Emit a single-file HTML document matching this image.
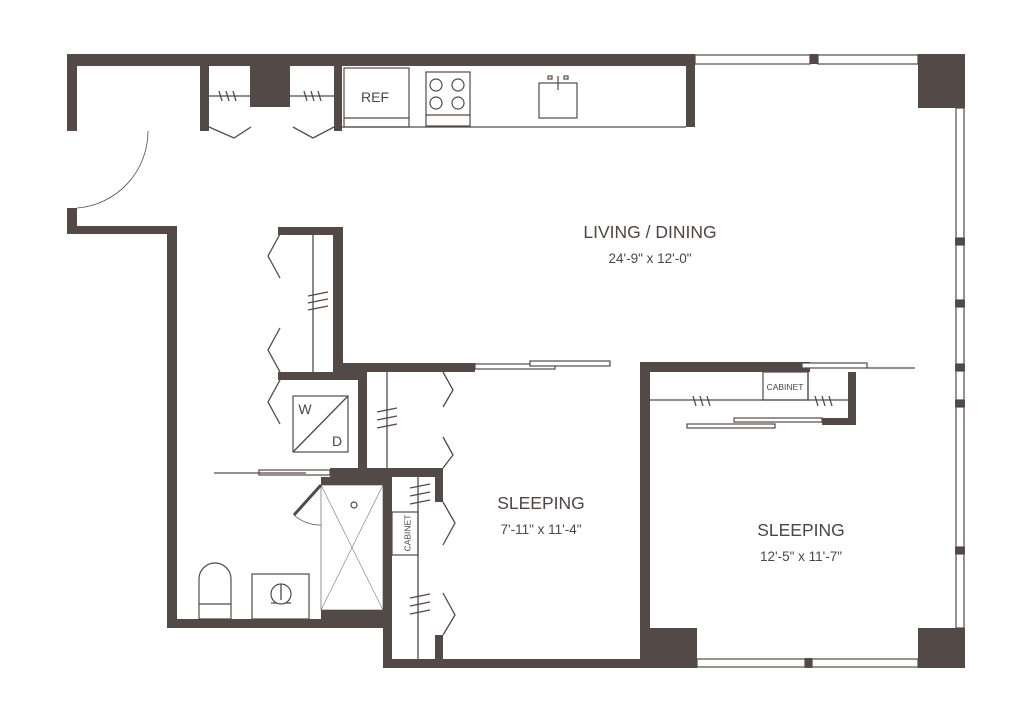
<!DOCTYPE html>
<html><head><meta charset="utf-8"><style>
html,body{margin:0;padding:0;background:#fff;}
svg{display:block;}
text{font-family:"Liberation Sans",sans-serif;fill:#4f4543;}
</style></head><body>
<svg width="1024" height="715" viewBox="0 0 1024 715" xmlns="http://www.w3.org/2000/svg">
<g fill="#534947">
<rect x="67" y="54" width="628" height="12"/>
<rect x="67" y="54" width="10" height="77"/>
<rect x="67" y="208" width="10" height="26"/>
<rect x="67" y="226" width="110" height="8"/>
<rect x="167" y="226" width="10" height="402"/>
<rect x="167" y="619" width="216" height="9"/>
<rect x="321" y="610" width="62" height="18"/>
<rect x="200" y="66" width="9" height="65"/>
<rect x="250" y="66" width="40" height="41"/>
<rect x="334" y="66" width="8" height="65"/>
<rect x="686" y="54" width="9" height="73"/>
<rect x="918" y="54" width="47" height="54"/>
<rect x="918" y="628" width="47" height="40"/>
<rect x="640" y="628" width="57" height="40"/>
<rect x="805" y="658" width="7" height="10"/>
<rect x="810" y="54" width="8" height="10"/>
<rect x="955" y="238" width="10" height="7"/>
<rect x="955" y="300" width="10" height="7"/>
<rect x="955" y="364" width="10" height="7"/>
<rect x="955" y="400" width="10" height="7"/>
<rect x="955" y="547" width="10" height="7"/>
<rect x="278" y="227" width="65" height="8"/>
<rect x="333" y="227" width="10" height="145"/>
<rect x="333" y="363" width="142" height="9"/>
<rect x="278" y="372" width="89" height="8"/>
<rect x="358" y="372" width="9" height="96"/>
<rect x="330" y="468" width="113" height="9"/>
<rect x="321" y="477" width="62" height="8"/>
<rect x="383" y="468" width="9" height="200"/>
<rect x="435" y="468" width="8" height="34"/>
<rect x="435" y="635" width="8" height="24"/>
<rect x="383" y="659" width="257" height="9"/>
<rect x="640" y="362" width="10" height="306"/>
<rect x="640" y="362" width="170" height="10"/>
<rect x="848" y="372" width="8" height="53"/>
<rect x="822" y="418" width="34" height="7"/>
</g>
<g fill="#fff" stroke="#534947" stroke-width="1.2">
<rect x="695" y="55" width="115" height="9"/>
<rect x="818" y="55" width="100" height="9"/>
<rect x="956" y="108" width="8" height="130"/>
<rect x="956" y="245" width="8" height="55"/>
<rect x="956" y="307" width="8" height="57"/>
<rect x="956" y="371" width="8" height="29"/>
<rect x="956" y="407" width="8" height="140"/>
<rect x="956" y="554" width="8" height="74"/>
<rect x="697" y="659" width="108" height="8"/>
<rect x="812" y="659" width="106" height="8"/>
<rect x="344" y="68" width="65" height="59"/>
<line x1="344" y1="118" x2="409" y2="118"/>
<rect x="426" y="72" width="44" height="54"/>
<line x1="426" y1="115" x2="470" y2="115"/>
<circle cx="436" cy="85" r="6"/><circle cx="458" cy="85" r="6"/>
<circle cx="436" cy="103" r="6"/><circle cx="458" cy="103" r="6"/>
<rect x="539" y="83" width="38" height="35"/>
<rect x="548" y="76" width="4" height="3"/><rect x="564" y="76" width="4" height="3"/>
<line x1="558" y1="76" x2="558" y2="90"/>
<rect x="475" y="364" width="80" height="5"/>
<rect x="530" y="361" width="80" height="5"/>
<rect x="259" y="470" width="71" height="5"/>
<rect x="687" y="424" width="88" height="4"/>
<rect x="734" y="418" width="88" height="4"/>
<rect x="802" y="363" width="65" height="5"/>
<rect x="293" y="396" width="55" height="56"/>
<rect x="763" y="372" width="45" height="28"/>
<rect x="392" y="512" width="26" height="43"/>
<rect x="321" y="485" width="62" height="125" stroke-width="0.6"/>
<circle cx="354" cy="505" r="3"/>
<rect x="252" y="574" width="57" height="45"/>
<circle cx="281" cy="594" r="10"/>
<path d="M199 619 V579 A16 16 0 0 1 231 579 V619 Z"/>
<line x1="199" y1="604" x2="231" y2="604"/>
</g>
<g fill="none" stroke="#534947" stroke-width="1.3">
<line x1="342" y1="127" x2="686" y2="127"/>
<line x1="209" y1="96" x2="250" y2="96"/><line x1="290" y1="96" x2="334" y2="96"/>
<path d="M209 127 L234 138 L251 127 M293 127 L313 138 L334 127"/>
<path d="M219 91 l3 10 M226 91 l3 10 M233 91 l3 10 M304 91 l3 10 M311 91 l3 10 M318 91 l3 10"/>
<path d="M148 131 A77 77 0 0 1 77 208" stroke-width="0.8"/>
<line x1="313" y1="235" x2="313" y2="372"/>
<path d="M308 296 l20 -4 M308 303 l20 -4 M308 310 l20 -4"/>
<path d="M280 234 L268 256 L280 278 M280 328 L268 350 L280 372 M280 380 L268 402 L280 424"/>
<line x1="293" y1="452" x2="348" y2="396"/>
<line x1="387" y1="372" x2="387" y2="468"/>
<path d="M377 412 l20 -4 M377 420 l20 -4 M377 428 l20 -4"/>
<path d="M443 372 L453 390 L443 407 M443 437 L453 455 L443 468"/>
<line x1="214" y1="473" x2="306" y2="473"/>
<line x1="418" y1="477" x2="418" y2="659"/>
<path d="M410 488 l20 -4 M410 496 l20 -4 M410 504 l20 -4 M410 598 l20 -4 M410 606 l20 -4 M410 614 l20 -4"/>
<path d="M443 502 L455 523 L443 545 M443 593 L455 615 L443 635"/>
<path d="M321 485 L383 610 M383 485 L321 610" stroke-width="0.5"/>
<path d="M321 485 L294 515" stroke-width="3"/>
<path d="M294 515 A40 40 0 0 0 321 525" stroke-width="0.8"/>
<path d="M281 584 V600 M271 603 h6 M285 603 h6"/>
<line x1="650" y1="400" x2="848" y2="400"/>
<line x1="808" y1="400" x2="808" y2="372"/>
<path d="M693 396 l3 10 M700 396 l3 10 M707 396 l3 10 M815 396 l3 10 M822 396 l3 10 M829 396 l3 10"/>
<line x1="867" y1="368" x2="915" y2="368"/>
</g>
<g text-anchor="middle">
<text x="375" y="102" font-size="14">REF</text>
<text x="305" y="414" font-size="14">W</text>
<text x="337" y="446" font-size="14">D</text>
<text x="785" y="390" font-size="8.5">CABINET</text>
<text x="408" y="533" font-size="8.5" transform="rotate(-90 408 533)" dominant-baseline="middle">CABINET</text>
<text x="650" y="238" font-size="17.5">LIVING / DINING</text>
<text x="650" y="263" font-size="13.5">24'-9" x 12'-0"</text>
<text x="541" y="509" font-size="17.5">SLEEPING</text>
<text x="541" y="534" font-size="13.5">7'-11" x 11'-4"</text>
<text x="801" y="536" font-size="17.5">SLEEPING</text>
<text x="801" y="561" font-size="13.5">12'-5" x 11'-7"</text>
</g>
</svg>
</body></html>
